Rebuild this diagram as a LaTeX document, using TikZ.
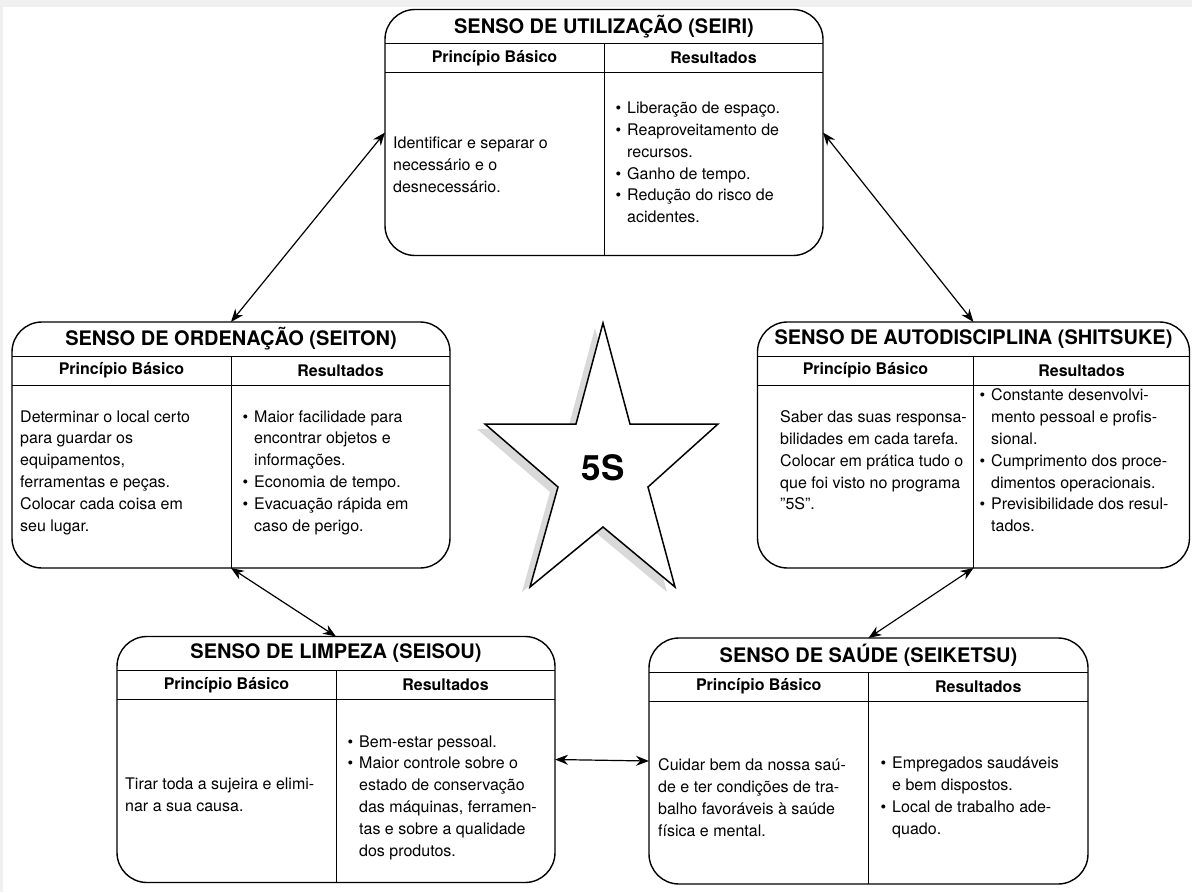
\documentclass[tikz,border=0pt]{standalone}
\usepackage{fontspec}
\setmainfont{TeX Gyre Heros}
\usetikzlibrary{calc,arrows.meta}

\tikzset{
  sbox/.style={draw, line width=1.4pt, rounded corners=30pt, inner sep=0pt,
               outer sep=0pt, minimum height=246pt},
  rule/.style={line width=0.9pt},
  titletext/.style={font=\bfseries\fontsize{20}{22}\selectfont, inner sep=0pt},
  headtext/.style={font=\bfseries\fontsize{16}{18}\selectfont, inner sep=0pt},
  bodytext/.style={font=\fontsize{16}{21.8}\selectfont, align=left,
                   anchor=west, inner sep=0pt},
  link/.style={line width=1.2pt,
               {Stealth[length=13pt,width=10pt]}-{Stealth[length=13pt,width=10pt]}},
  starline/.style={draw, line width=1.5pt, fill=white, line join=miter},
  starshade/.style={fill=gray!30},
}

% one "senso" card: name, centre x, centre y, width, title
\newcommand\sensobox[5]{%
  \node[sbox, minimum width=#4pt] (#1) at (#2,#3) {};
  \draw[rule] ([yshift=-34pt]#1.north west) -- ([yshift=-34pt]#1.north east);
  \draw[rule] ([yshift=-63pt]#1.north west) -- ([yshift=-63pt]#1.north east);
  \draw[rule] ([yshift=-34pt]#1.north) -- (#1.south);
  \node[titletext] (#1-title) at ([yshift=-17pt]#1.north) {#5};
  \node[headtext] (#1-pb) at ($([yshift=-48.5pt]#1.north west)!0.5!([yshift=-48.5pt]#1.north)$) {Princípio Básico};
  \node[headtext] (#1-res) at ($([yshift=-48.5pt]#1.north)!0.5!([yshift=-48.5pt]#1.north east)$) {Resultados};
}
\newcommand\bul{\llap{\textbullet\hspace{6pt}}}

\begin{document}
\begin{tikzpicture}[x=1pt, y=-1pt]
  \useasboundingbox (0,0) rectangle (1192,892);
  \fill[white] (0,0) rectangle (1192,892);
  \fill[gray!12] (0,0) rectangle (1192,7);
  \fill[gray!12] (0,0) rectangle (3,892);

  % the star
  \fill[starshade, shift={(-8,5)}]
    (603,323) -- (630,424) -- (718,424) -- (648,487) -- (675,587)
    -- (603,527) -- (530,587) -- (558,487) -- (485,424) -- (576,424) -- cycle;
  \path[starline]
    (603,323) -- (630,424) -- (718,424) -- (648,487) -- (675,587)
    -- (603,527) -- (530,587) -- (558,487) -- (485,424) -- (576,424) -- cycle;
  \node[font=\bfseries\fontsize{35}{38}\selectfont, inner sep=0pt] (fives) at (603,468) {5S};

  % cards
  \sensobox{seiri}{604}{132.5}{438}{SENSO DE UTILIZAÇÃO (SEIRI)}
  \sensobox{seiton}{231}{445}{438}{SENSO DE ORDENAÇÃO (SEITON)}
  \sensobox{shitsuke}{973.5}{445}{432}{SENSO DE AUTODISCIPLINA (SHITSUKE)}
  \sensobox{seisou}{336}{759.5}{438}{SENSO DE LIMPEZA (SEISOU)}
  \sensobox{seiketsu}{868.5}{761}{439}{SENSO DE SAÚDE (SEIKETSU)}

  % card texts
  \node[bodytext] (seiri-l) at (393,165) {Identificar e separar o\\necessário e o\\desnecessário.};
  \node[bodytext] (seiri-r) at (627,162.5) {\bul Liberação de espaço.\\\bul Reaproveitamento de\\recursos.\\\bul Ganho de tempo.\\\bul Redução do risco de\\acidentes.};

  \node[bodytext] (seiton-l) at (20,472.5) {Determinar o local certo\\para guardar os\\equipamentos,\\ferramentas e peças.\\Colocar cada coisa em\\seu lugar.};
  \node[bodytext] (seiton-r) at (254,472.5) {\bul Maior facilidade para\\encontrar objetos e\\informações.\\\bul Economia de tempo.\\\bul Evacuação rápida em\\caso de perigo.};

  \node[bodytext] (shitsuke-l) at (780,460.5) {Saber das suas responsa-\\bilidades em cada tarefa.\\Colocar em prática tudo o\\que foi visto no programa\\"5S".};
  \node[bodytext] (shitsuke-r) at (991,460.5) {\bul Constante desenvolvi-\\mento pessoal e profis-\\sional.\\\bul Cumprimento dos proce-\\dimentos operacionais.\\\bul Previsibilidade dos resul-\\tados.};

  \node[bodytext] (seisou-l) at (125,795) {Tirar toda a sujeira e elimi-\\nar a sua causa.};
  \node[bodytext] (seisou-r) at (359,797.5) {\bul Bem-estar pessoal.\\\bul Maior controle sobre o\\estado de conservação\\das máquinas, ferramen-\\tas e sobre a qualidade\\dos produtos.};

  \node[bodytext] (seiketsu-l) at (658,797.5) {Cuidar bem da nossa saú-\\de e ter condições de tra-\\balho favoráveis à saúde\\física e mental.};
  \node[bodytext] (seiketsu-r) at (892,797.5) {\bul Empregados saudáveis\\e bem dispostos.\\\bul Local de trabalho ade-\\quado.};

  % links between the cards
  \draw[link] (seiri.west) -- (seiton.north);
  \draw[link] (seiri.east) -- (shitsuke.north);
  \draw[link] (seiton.south) -- (seisou.north);
  \draw[link] (shitsuke.south) -- (seiketsu.north);
  \draw[link] (seisou.east) -- (seiketsu.west);
\end{tikzpicture}
\end{document}
